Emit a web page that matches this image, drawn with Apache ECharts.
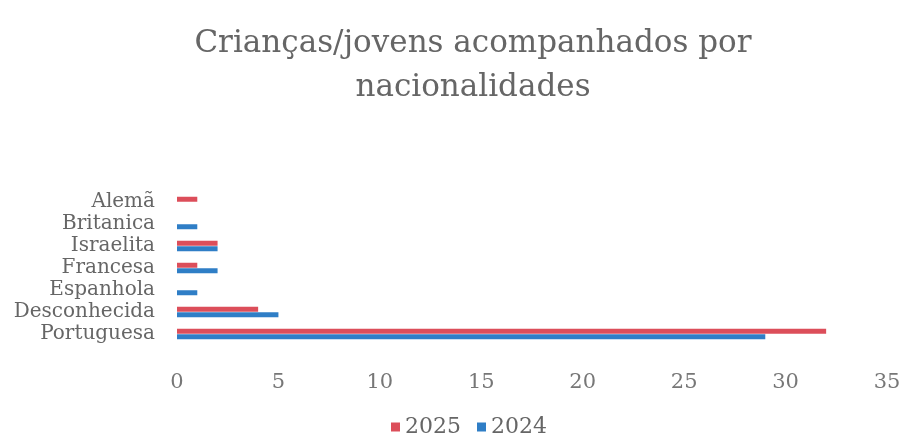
<!DOCTYPE html>
<html>
<head>
<meta charset="utf-8">
<script src="https://cdn.jsdelivr.net/npm/echarts@6/dist/echarts.min.js"></script>
<style>
  html, body { margin: 0; padding: 0; background: #fff; }
  #chart { width: 910px; height: 434px; }
</style>
</head>
<body>
<div id="chart"></div>
<script>
// nacionalidades, de baixo para cima
const categories = ['Portuguesa', 'Desconhecida', 'Espanhola', 'Francesa', 'Israelita', 'Britanica', 'Alemã']
const values2025 = [32, 4, 0, 1, 2, 0, 1]
const values2024 = [29, 5, 1, 2, 2, 1, 0]
const xTicks = [0, 35, 5] // min, max, intervalo

const chart = echarts.init(document.getElementById('chart'))
const serif = 'DejaVu Serif'

chart.setOption({
  animation: false,
  title: {
    text: 'Crianças/jovens acompanhados por\nnacionalidades',
    left: 468,
    top: 17,
    textAlign: 'center',
    textStyle: { fontFamily: serif, fontWeight: 'normal', fontSize: 31, color: '#666', lineHeight: 44 }
  },
  legend: {
    data: ['2025', '2024'],
    left: 386,
    top: 411,
    itemWidth: 9,
    itemHeight: 9,
    itemGap: 16,
    icon: 'rect',
    textStyle: { fontFamily: serif, fontSize: 22, color: '#666' }
  },
  grid: { left: 177, right: 23, top: 191, bottom: 89, containLabel: false },
  xAxis: {
    type: 'value',
    min: xTicks[0],
    max: xTicks[1],
    interval: xTicks[2],
    axisLine: { show: false },
    axisTick: { show: false },
    splitLine: { show: false },
    axisLabel: { margin: 27, fontFamily: serif, fontSize: 21, color: '#777' }
  },
  yAxis: {
    type: 'category',
    data: categories,
    axisLine: { show: false },
    axisTick: { show: false },
    axisLabel: { interval: 0, margin: 22, fontFamily: serif, fontSize: 20, color: '#666' }
  },
  series: [
    {
      name: '2025',
      type: 'bar',
      data: values2025,
      barWidth: 5,
      barGap: '10%',
      itemStyle: { color: '#dc4e5a' }
    },
    {
      name: '2024',
      type: 'bar',
      data: values2024,
      barWidth: 5,
      barGap: '10%',
      itemStyle: { color: '#2f7ec6' }
    }
  ]
})
</script>
</body>
</html>
